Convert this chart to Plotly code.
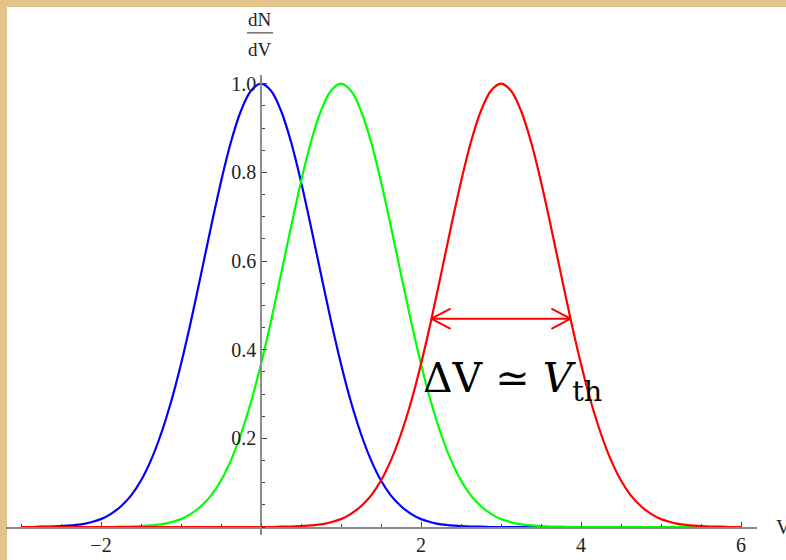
import plotly.graph_objects as go

# sample points along V (every 0.125)
v = [-3.0, -2.875, -2.75, -2.625, -2.5, -2.375, -2.25, -2.125,
     -2.0, -1.875, -1.75, -1.625, -1.5, -1.375, -1.25, -1.125,
     -1.0, -0.875, -0.75, -0.625, -0.5, -0.375, -0.25, -0.125,
     0.0, 0.125, 0.25, 0.375, 0.5, 0.625, 0.75, 0.875,
     1.0, 1.125, 1.25, 1.375, 1.5, 1.625, 1.75, 1.875,
     2.0, 2.125, 2.25, 2.375, 2.5, 2.625, 2.75, 2.875,
     3.0, 3.125, 3.25, 3.375, 3.5, 3.625, 3.75, 3.875,
     4.0, 4.125, 4.25, 4.375, 4.5, 4.625, 4.75, 4.875,
     5.0, 5.125, 5.25, 5.375, 5.5, 5.625, 5.75, 5.875, 6.0]

blue = [0.000, 0.000, 0.001, 0.001, 0.002, 0.004, 0.006, 0.011,
        0.018, 0.030, 0.047, 0.071, 0.105, 0.151, 0.210, 0.282,
        0.368, 0.465, 0.570, 0.677, 0.779, 0.869, 0.939, 0.984,
        1.000, 0.984, 0.939, 0.869, 0.779, 0.677, 0.570, 0.465,
        0.368, 0.282, 0.210, 0.151, 0.105, 0.071, 0.047, 0.030,
        0.018, 0.011, 0.006, 0.004, 0.002, 0.001, 0.001, 0.000,
        0.000, 0.000, 0.000, 0.000, 0.000, 0.000, 0.000, 0.000,
        0.000, 0.000, 0.000, 0.000, 0.000, 0.000, 0.000, 0.000,
        0.000, 0.000, 0.000, 0.000, 0.000, 0.000, 0.000, 0.000, 0.000]

green = [0.000, 0.000, 0.000, 0.000, 0.000, 0.000, 0.000, 0.000,
         0.000, 0.000, 0.001, 0.001, 0.002, 0.004, 0.006, 0.011,
         0.018, 0.030, 0.047, 0.071, 0.105, 0.151, 0.210, 0.282,
         0.368, 0.465, 0.570, 0.677, 0.779, 0.869, 0.939, 0.984,
         1.000, 0.984, 0.939, 0.869, 0.779, 0.677, 0.570, 0.465,
         0.368, 0.282, 0.210, 0.151, 0.105, 0.071, 0.047, 0.030,
         0.018, 0.011, 0.006, 0.004, 0.002, 0.001, 0.001, 0.000,
         0.000, 0.000, 0.000, 0.000, 0.000, 0.000, 0.000, 0.000,
         0.000, 0.000, 0.000, 0.000, 0.000, 0.000, 0.000, 0.000, 0.000]

red = [0.000, 0.000, 0.000, 0.000, 0.000, 0.000, 0.000, 0.000,
       0.000, 0.000, 0.000, 0.000, 0.000, 0.000, 0.000, 0.000,
       0.000, 0.000, 0.000, 0.000, 0.000, 0.000, 0.000, 0.000,
       0.000, 0.000, 0.001, 0.001, 0.002, 0.004, 0.006, 0.011,
       0.018, 0.030, 0.047, 0.071, 0.105, 0.151, 0.210, 0.282,
       0.368, 0.465, 0.570, 0.677, 0.779, 0.869, 0.939, 0.984,
       1.000, 0.984, 0.939, 0.869, 0.779, 0.677, 0.570, 0.465,
       0.368, 0.282, 0.210, 0.151, 0.105, 0.071, 0.047, 0.030,
       0.018, 0.011, 0.006, 0.004, 0.002, 0.001, 0.001, 0.000, 0.000]

x_tick_vals = [-2, 2, 4, 6]
x_tick_text = ["\u22122", "2", "4", "6"]
y_tick_vals = [0.2, 0.4, 0.6, 0.8, 1.0]
y_tick_text = ["0.2", "0.4", "0.6", "0.8", "1.0"]

# width marker on the red curve
arrow_x = [2.13, 3.87]
arrow_y = 0.47

serif = "Liberation Serif, Times New Roman, serif"
W, H = 786, 560

fig = go.Figure()

for ys, col in [(blue, "#0000ff"), (green, "#00ff00"), (red, "#ff0000")]:
    fig.add_trace(go.Scatter(x=v, y=ys, mode="lines", line=dict(color=col, width=2.2, shape="spline"),
                             hoverinfo="skip", showlegend=False))

# double arrow with open heads
hx, hy = 0.24, 0.023
ax0, ax1 = arrow_x
fig.add_trace(go.Scatter(
    x=[ax0 + hx, ax0, ax0 + hx, None, ax0, ax1, None, ax1 - hx, ax1, ax1 - hx],
    y=[arrow_y + hy, arrow_y, arrow_y - hy, None, arrow_y, arrow_y, None, arrow_y + hy, arrow_y, arrow_y - hy],
    mode="lines", line=dict(color="#ff0000", width=2), hoverinfo="skip", showlegend=False))

axis_col = "#8a8a8a"
fig.update_xaxes(range=[-3.1875, 6.2], domain=[6 / W, 757 / W], anchor="free", position=(H - 527.5) / H,
                 showline=True, linecolor=axis_col, linewidth=1.5, showgrid=False, zeroline=False,
                 tickmode="array", tickvals=x_tick_vals, ticktext=x_tick_text,
                 ticks="inside", ticklen=5, tickwidth=1, tickcolor="#444",
                 minor=dict(tickmode="linear", tick0=0, dtick=0.5, ticks="inside", ticklen=3,
                            tickwidth=1, tickcolor="#444", showgrid=False),
                 tickfont=dict(family=serif, size=20, color="#222"))
fig.update_yaxes(range=[-0.018, 1.0202], domain=[25 / H, 487 / H], anchor="free", position=261 / W,
                 showline=True, linecolor=axis_col, linewidth=1.5, showgrid=False, zeroline=False,
                 tickmode="array", tickvals=y_tick_vals, ticktext=y_tick_text,
                 ticks="inside", ticklen=5, tickwidth=1, tickcolor="#444",
                 minor=dict(tickmode="linear", tick0=0, dtick=0.05, ticks="inside", ticklen=3,
                            tickwidth=1, tickcolor="#444", showgrid=False),
                 tickfont=dict(family=serif, size=20, color="#222"))

# white card on a parchment frame
fig.add_shape(type="rect", xref="paper", yref="paper", x0=7 / W, x1=1.0, y0=0, y1=(H - 5) / H,
              fillcolor="white", line=dict(width=0), layer="below")

# axis labels
fig.add_annotation(text="V", xref="paper", yref="paper", x=774 / W, y=(H - 527) / H,
                   xanchor="left", yanchor="middle", showarrow=False,
                   font=dict(family=serif, size=20, color="#222"))
fig.add_annotation(text="dN", xref="paper", yref="paper", x=260 / W, y=(H - 18) / H,
                   xanchor="center", yanchor="middle", showarrow=False,
                   font=dict(family=serif, size=19, color="#222"))
fig.add_annotation(text="dV", xref="paper", yref="paper", x=260 / W, y=(H - 48) / H,
                   xanchor="center", yanchor="middle", showarrow=False,
                   font=dict(family=serif, size=19, color="#222"))
fig.add_shape(type="line", xref="paper", yref="paper", x0=247 / W, x1=273 / W,
              y0=(H - 31) / H, y1=(H - 31) / H, line=dict(color="#222", width=1))

fig.add_annotation(text="\u0394V \u2243 <i>V</i><sub>th</sub>", x=2.0, y=0.33,
                   xanchor="left", yanchor="middle", showarrow=False,
                   font=dict(family="DejaVu Serif, serif", size=41, color="#000"))

fig.update_layout(width=W, height=H, margin=dict(l=0, r=0, t=0, b=0),
                  paper_bgcolor="#e2c48b", plot_bgcolor="rgba(0,0,0,0)")

fig.write_html("out.html", config={"displayModeBar": False},
               post_script="document.body.style.margin='0';document.body.style.overflow='hidden';")
